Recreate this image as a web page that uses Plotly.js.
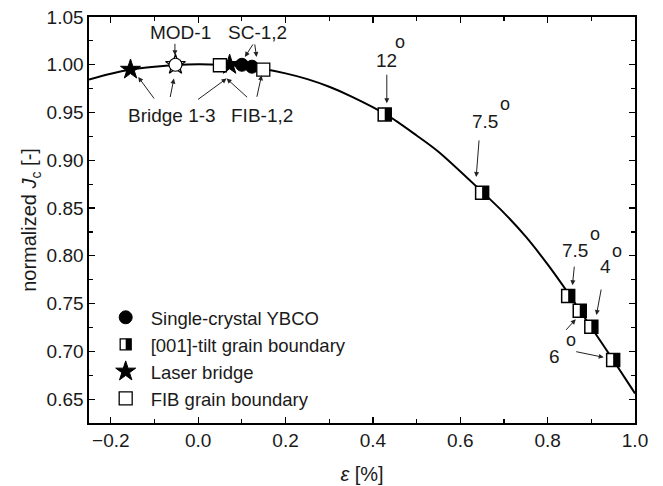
<!DOCTYPE html>
<html><head><meta charset="utf-8">
<script src="https://cdn.plot.ly/plotly-3.0.1.min.js"></script>
<style>html,body{margin:0;padding:0;background:#fff}#chart{width:663px;height:486px}</style>
</head><body><div id="chart"></div>
<script>
// ---- data ----
var curveX = [-0.25,-0.2,-0.155,-0.1,-0.05,0,0.05,0.1,0.15,0.2,0.25,0.3,0.35,0.43,0.5,0.55,0.65,0.7,0.75,0.8,0.85,0.9,0.95,1.0];
var curveY = [0.9845,0.9905,0.995,0.998,0.9998,1.0005,1.0,0.9985,0.9955,0.991,0.985,0.977,0.967,0.948,0.926,0.909,0.867,0.845,0.82,0.791,0.759,0.725,0.691,0.656];

var scX = [0.100, 0.123];
var scY = [1.000, 0.998];

var tiltX = [0.427, 0.650, 0.847, 0.8735, 0.900, 0.950];
var tiltY = [0.948, 0.866, 0.758, 0.7425, 0.7257, 0.691];

var laserX = [-0.155, 0.072];
var laserY = [0.995, 1.000];

var modX = [-0.052];
var modY = [1.000];

var fibX = [0.0497, 0.149];
var fibY = [0.9995, 0.995];

var legendNames = ["Single-crystal YBCO", "[001]-tilt grain boundary", "Laser bridge", "FIB grain boundary"];

// label texts and positions (data coords)
var labelText = ["MOD-1", "SC-1,2", "Bridge 1-3", "FIB-1,2", "12", "7.5", "7.5", "4", "6"];
var labelX = [-0.0396, 0.1366, -0.0609, 0.1469, 0.4311, 0.656, 0.8622, 0.9331, 0.8162];
var labelY = [1.0343, 1.0343, 0.9472, 0.9472, 1.0047, 0.9402, 0.806, 0.7885, 0.6944];
var degX = [0.4624, 0.703, 0.9089, 0.9598, 0.8537];
var degY = [1.0234, 0.9589, 0.8229, 0.8055, 0.7114];

// arrows: head (data) and tail offset (px)
var arrX = [-0.0533, 0.1069, 0.1336, -0.1373, -0.0556, 0.065, 0.065, 0.1451, 0.4318, 0.6364, 0.8568, 0.9117, 0.8643, 0.9284];
var arrY = [1.0099, 1.0082, 1.0082, 0.9872, 0.9856, 0.9856, 0.9856, 0.989, 0.9597, 0.8826, 0.7693, 0.738, 0.7335, 0.6937];
var arrAX = [0, 9, -2, 17, -4, -30, 22, -5, 0, 3, 2, 5, -11, -29];
var arrAY = [-13, -14, -14, 23, 20, 22, 20, 23, -30, -38, -20, -27, 12, -6];

var FONT = "Liberation Sans, Arial, sans-serif";
var TXT = "#1a1a1a";

var traces = [
  {x: curveX, y: curveY, mode: "lines", line: {color: "#000", width: 2, shape: "spline", smoothing: 0.8}, showlegend: false, hoverinfo: "skip"},
  {x: laserX, y: laserY, mode: "markers", name: legendNames[2], legendrank: 3,
   marker: {symbol: "star", size: 15, color: "#000", line: {color: "#000", width: 1}}},
  {x: scX, y: scY, mode: "markers", name: legendNames[0], legendrank: 1,
   marker: {symbol: "circle", size: 13, color: "#000", line: {color: "#000", width: 1}}},
  {x: modX, y: modY, mode: "markers", showlegend: false,
   marker: {symbol: "star", size: 15, color: "#fff", line: {color: "#000", width: 1.2}}},
  {x: modX, y: modY, mode: "markers", showlegend: false,
   marker: {symbol: "circle", size: 13, color: "#fff", line: {color: "#000", width: 1.2}}},
  {x: tiltX, y: tiltY, mode: "markers", showlegend: false,
   marker: {symbol: "square", size: 13, color: "#fff", line: {color: "#000", width: 1.5}}},
  {x: [null], y: [null], mode: "markers", name: legendNames[1], legendrank: 2,
   marker: {symbol: "square", size: 11, color: "rgba(0,0,0,0)", line: {color: "#000", width: 1.3}}},
  {x: fibX, y: fibY, mode: "markers", name: legendNames[3], legendrank: 4,
   marker: {symbol: "square", size: 13, color: "#fff", line: {color: "#000", width: 1.3}}}
];

var shapes = [];
for (var i = 0; i < tiltX.length; i++) {
  shapes.push({type: "rect", xref: "x", yref: "y", xsizemode: "pixel", ysizemode: "pixel",
    xanchor: tiltX[i], yanchor: tiltY[i], x0: 0, x1: 6.5, y0: -6.5, y1: 6.5,
    fillcolor: "#000", line: {width: 0}, layer: "above"});
}
// half fill for the legend symbol of the tilt series (positioned after render)
shapes.push({type: "rect", xref: "paper", yref: "paper", xsizemode: "pixel", ysizemode: "pixel",
  xanchor: 0.0628, yanchor: 0.185, x0: 0, x1: 5.5, y0: -5.5, y1: 5.5,
  fillcolor: "#000", line: {width: 0}, layer: "above"});

var ann = [];
for (var j = 0; j < labelText.length; j++) {
  ann.push({x: labelX[j], y: labelY[j], xref: "x", yref: "y", text: labelText[j], showarrow: false,
    font: {family: FONT, size: 19, color: TXT}});
}
for (var k = 0; k < degX.length; k++) {
  ann.push({x: degX[k], y: degY[k], xref: "x", yref: "y", text: "o", showarrow: false,
    font: {family: FONT, size: 18, color: TXT}});
}
for (var m = 0; m < arrX.length; m++) {
  ann.push({x: arrX[m], y: arrY[m], xref: "x", yref: "y", ax: arrAX[m], ay: arrAY[m], text: "",
    showarrow: true, arrowhead: 2, arrowsize: 1, arrowwidth: 1, arrowcolor: "#222", standoff: 0, startstandoff: 0,
    font: {size: 1}});
}

var axisCommon = {showgrid: false, zeroline: false, showline: true, linecolor: "#000", linewidth: 1.6,
  mirror: "ticks", ticks: "inside", ticklen: 6, tickwidth: 1.2, tickcolor: "#000",
  tickfont: {family: FONT, size: 19, color: TXT}};

var layout = {
  width: 663, height: 486,
  margin: {l: 89, r: 28, t: 17, b: 63},
  paper_bgcolor: "#fff", plot_bgcolor: "#fff",
  font: {family: FONT, size: 20, color: TXT},
  xaxis: Object.assign({}, axisCommon, {range: [-0.25, 1.0], dtick: 0.2, tick0: 0, tickformat: ".1f",
    minor: {ticks: "inside", ticklen: 4, dtick: 0.1, tickcolor: "#000", tickwidth: 1.2},
    title: {text: "<i>ε</i> [%]", font: {family: FONT, size: 20, color: TXT}, standoff: 16}}),
  yaxis: Object.assign({}, axisCommon, {range: [0.625, 1.05], dtick: 0.05, tick0: 0, tickformat: ".2f",
    minor: {ticks: "inside", ticklen: 4, dtick: 0.025, tickcolor: "#000", tickwidth: 1.2},
    title: {text: "normalized <i>J</i><sub>c</sub> [-]", font: {family: FONT, size: 20, color: TXT}, standoff: 4}}),
  legend: {x: 0.0214, y: 0.306, xanchor: "left", yanchor: "top", bgcolor: "rgba(0,0,0,0)",
    font: {family: FONT, size: 18.5, color: TXT}, itemsizing: "trace", itemwidth: 40, traceorder: "normal"},
  shapes: shapes,
  annotations: ann
};

Plotly.newPlot("chart", traces, layout, {displayModeBar: false, staticPlot: true}).then(function (gd) {
  // place the legend half-fill over the tilt legend symbol
  var pts = gd.querySelectorAll(".legend .traces");
  var bb = gd.getBoundingClientRect();
  for (var t = 0; t < pts.length; t++) {
    var txt = pts[t].querySelector(".legendtext");
    if (txt && txt.textContent === legendNames[1]) {
      var sym = pts[t].querySelector(".legendpoints path");
      if (sym) {
        var r = sym.getBoundingClientRect();
        var fl = gd._fullLayout;
        var cx = (r.left + r.right) / 2 - bb.left, cy = (r.top + r.bottom) / 2 - bb.top;
        var px = (cx - fl._size.l) / fl._size.w;
        var py = 1 - (cy - fl._size.t) / fl._size.h;
        var idx = gd.layout.shapes.length - 1;
        var upd = {};
        upd["shapes[" + idx + "].xanchor"] = px;
        upd["shapes[" + idx + "].yanchor"] = py;
        Plotly.relayout(gd, upd);
      }
    }
  }
});
</script></body></html>
